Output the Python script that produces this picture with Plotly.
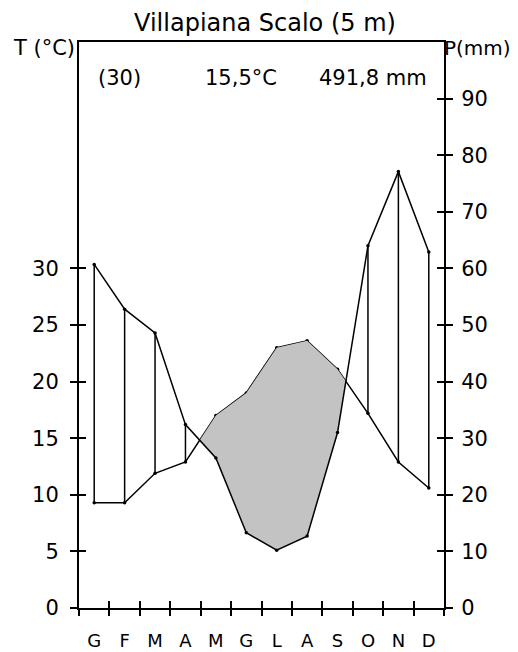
import plotly.graph_objects as go

# ---------------- data ----------------
months = ["G", "F", "M", "A", "M", "G", "L", "A", "S", "O", "N", "D"]
temp = [9.3, 9.3, 11.9, 12.9, 17.0, 19.0, 23.0, 23.6, 21.1, 17.2, 12.9, 10.6]      # °C
prec = [60.7, 52.8, 48.6, 32.4, 26.5, 13.3, 10.2, 12.7, 31.0, 64.0, 77.1, 62.9]    # mm
t_ticks = [0, 5, 10, 15, 20, 25, 30]
p_ticks = [0, 10, 20, 30, 40, 50, 60, 70, 80, 90]
month_edges = list(range(13))
title_text = "Villapiana Scalo (5 m)"
years_label = "(30)"
mean_temp_label = "15,5°C"
total_prec_label = "491,8 mm"

FONT = "DejaVu Sans"
BLACK = "#000000"
OFF = 8  # default page body margin

xc = [i + 0.5 for i in range(len(months))]
t2 = [2 * t for t in temp]                  # temperature on the precipitation scale
diff = [p - t for p, t in zip(prec, t2)]    # >0 humid, <0 dry


def crossing(i):
    f = diff[i] / (diff[i] - diff[i + 1])
    return xc[i] + f, prec[i] + f * (prec[i + 1] - prec[i])


# dry period polygons (gray)
dry_polys = []
i = 0
n = len(months)
while i < n - 1:
    if diff[i] > 0 and diff[i + 1] <= 0:
        sx, sy = crossing(i)
        j = i + 1
        while j < n - 1 and diff[j + 1] <= 0:
            j += 1
        if j < n - 1:
            ex, ey = crossing(j)
        else:
            ex, ey = xc[j], prec[j]
        px = [sx] + xc[i + 1:j + 1] + [ex] + xc[i + 1:j + 1][::-1] + [sx]
        py = [sy] + t2[i + 1:j + 1] + [ey] + prec[i + 1:j + 1][::-1] + [sy]
        dry_polys.append((px, py))
        i = j
    i += 1

# humid hatching (vertical lines)
hx, hy = [], []
for k in range(n):
    if diff[k] > 0:
        hx += [xc[k], xc[k], None]
        hy += [t2[k], prec[k], None]

fig = go.Figure()

for px, py in dry_polys:
    fig.add_trace(go.Scatter(x=px, y=py, yaxis="y2", mode="lines", fill="toself",
                             fillcolor="#c3c3c3", line=dict(width=0), hoverinfo="skip",
                             showlegend=False))

fig.add_trace(go.Scatter(x=hx, y=hy, yaxis="y2", mode="lines",
                         line=dict(color=BLACK, width=1.5), showlegend=False))

fig.add_trace(go.Scatter(x=xc, y=temp, mode="lines+markers",
                         line=dict(color=BLACK, width=1.5),
                         marker=dict(color=BLACK, size=3.5), showlegend=False))
fig.add_trace(go.Scatter(x=xc, y=prec, yaxis="y2", mode="lines+markers",
                         line=dict(color=BLACK, width=1.5),
                         marker=dict(color=BLACK, size=3.5), showlegend=False))

# empty traces to register overlay axes (crossing tick marks)
fig.add_trace(go.Scatter(x=[], y=[], xaxis="x2", yaxis="y", showlegend=False))
fig.add_trace(go.Scatter(x=[], y=[], xaxis="x3", yaxis="y", showlegend=False))
fig.add_trace(go.Scatter(x=[], y=[], xaxis="x", yaxis="y3", showlegend=False))
fig.add_trace(go.Scatter(x=[], y=[], xaxis="x", yaxis="y4", showlegend=False))

tick_font = dict(family=FONT, size=21, color=BLACK)

L, T, PW, PH = 79 - OFF, 42 - OFF, 365, 566
W, H = 518, 652

fig.update_layout(
    width=W, height=H,
    margin=dict(l=L, r=W - L - PW, t=T, b=H - T - PH, autoexpand=False),
    paper_bgcolor="white", plot_bgcolor="white",
    showlegend=False,
    title=dict(text=title_text, x=(265 - OFF) / W, xanchor="center", xref="container",
               y=1 - (23 - OFF) / H, yanchor="middle", yref="container",
               font=dict(family=FONT, size=24, color=BLACK)),
    xaxis=dict(range=[0, 12], tickvals=xc, ticktext=months, ticks="",
               showline=True, linecolor=BLACK, linewidth=2, mirror=True,
               showgrid=False, zeroline=False, ticklabelstandoff=15, automargin=False,
               tickfont=dict(family=FONT, size=18, color=BLACK)),
    xaxis2=dict(range=[0, 12], overlaying="x", anchor="y", side="bottom",
                tickvals=month_edges, ticks="outside", ticklen=7, tickwidth=2,
                tickcolor=BLACK, showticklabels=False, showline=False,
                showgrid=False, zeroline=False, automargin=False),
    xaxis3=dict(range=[0, 12], overlaying="x", anchor="y", side="bottom",
                tickvals=month_edges, ticks="inside", ticklen=7, tickwidth=2,
                tickcolor=BLACK, showticklabels=False, showline=False,
                showgrid=False, zeroline=False, automargin=False),
    yaxis=dict(range=[0, 50], tickvals=t_ticks, ticks="outside", ticklen=7,
               tickwidth=2, tickcolor=BLACK, showline=True, linecolor=BLACK,
               linewidth=2, showgrid=False, zeroline=False, tickfont=tick_font,
               ticklabelstandoff=7, automargin=False),
    yaxis3=dict(range=[0, 50], overlaying="y", anchor="x", side="left",
                tickvals=t_ticks, ticks="inside", ticklen=7, tickwidth=2,
                tickcolor=BLACK, showticklabels=False, showline=False,
                showgrid=False, zeroline=False, automargin=False),
    yaxis2=dict(range=[0, 100], overlaying="y", anchor="x", side="right",
                tickvals=p_ticks, ticks="outside", ticklen=7, tickwidth=2,
                tickcolor=BLACK, showline=True, linecolor=BLACK, linewidth=2,
                showgrid=False, zeroline=False, tickfont=tick_font,
                ticklabelstandoff=4, automargin=False),
    yaxis4=dict(range=[0, 100], overlaying="y", anchor="x", side="right",
                tickvals=p_ticks, ticks="inside", ticklen=7, tickwidth=2,
                tickcolor=BLACK, showticklabels=False, showline=False,
                showgrid=False, zeroline=False, automargin=False),
)


def px2paper(x, y):
    # page-pixel position -> plot-area paper coordinates
    return (x - 79) / PW, (608 - y) / PH


annots = [
    ("T (°C)", 76, 48, "right", 21),
    ("P(mm)", 443, 48, "left", 20),
    (years_label, 119, 78, "center", 21),
    (mean_temp_label, 241, 78, "center", 21),
    (total_prec_label, 373, 78, "center", 21),
]
for text, x, y, anchor, fs in annots:
    ax, ay = px2paper(x, y)
    fig.add_annotation(text=text, x=ax, y=ay, xref="paper", yref="paper",
                       xanchor=anchor, yanchor="middle", showarrow=False,
                       font=dict(family=FONT, size=fs, color=BLACK), borderpad=0)

fig.write_html("out.html")
